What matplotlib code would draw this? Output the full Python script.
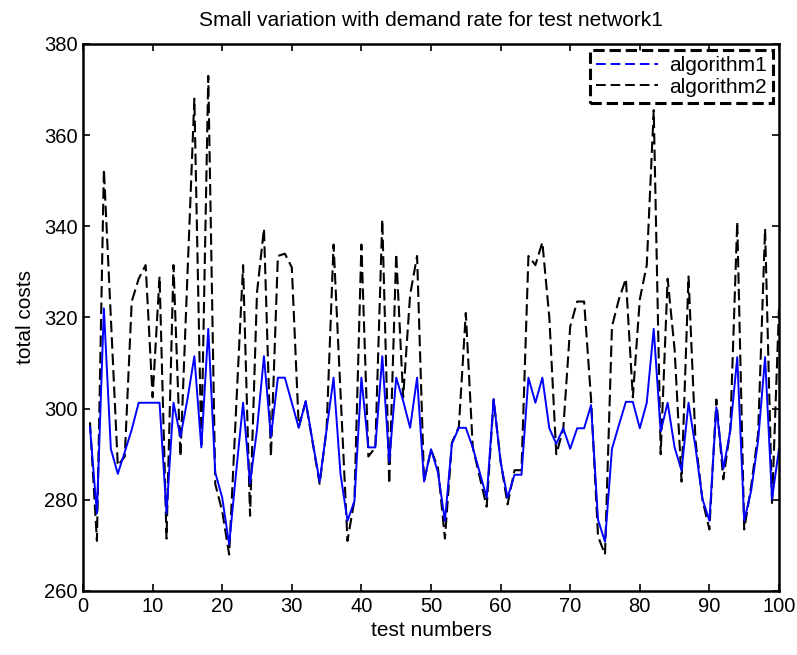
import numpy as np
import matplotlib
matplotlib.use("Agg")
import matplotlib.pyplot as plt
from matplotlib.lines import Line2D

# test numbers 1..100
tests = np.arange(1, 101)

# algorithm1 (blue, solid)
algorithm1 = [
    296, 277, 322, 291.2, 285.7, 290.5, 295.4, 301.3, 301.3, 301.3,
    301.3, 277, 301.3, 293.8, 302, 311.5, 291.5, 317.5, 286, 280.5,
    270.2, 286, 301.3, 283.6, 295.4, 311.5, 293.8, 306.8, 306.8, 301.3,
    295.8, 301.7, 292.7, 284, 295.4, 306.8, 285.6, 275.4, 279.7, 306.8,
    291.5, 291.5, 311.5, 288.3, 306.8, 301.7, 295.8, 306.8, 284, 291.1,
    286, 275.4, 292.3, 295.8, 295.8, 291.5, 286, 280.5, 302.1, 288.3,
    280.5, 285.5, 285.5, 306.8, 301.3, 306.8, 295.7, 292.3, 295.7, 291.2,
    295.7, 295.7, 300.8, 275.6, 270.8, 291.2, 296.4, 301.5, 301.5, 295.7,
    301.3, 317.5, 295, 301.3, 291.5, 286.4, 301.3, 291.5, 280.2, 275.4,
    300.3, 286.8, 295.2, 311.3, 275.4, 282, 293, 311.3, 280.2, 291.2,
]

# algorithm2 (black, dashed)
algorithm2 = [
    297, 271, 352.5, 320, 287.5, 289.5, 323.5, 328.5, 331.5, 302.5,
    329, 271.5, 331.5, 289.5, 329, 368, 291.5, 373, 283.5, 277.5,
    268, 300, 331.5, 276.5, 325.5, 339.5, 289.5, 333.5, 334, 331,
    296, 301.5, 292.5, 283.5, 295.5, 336, 303.5, 271, 280, 336,
    289.5, 291.5, 341.5, 283.5, 334, 302.5, 325, 333.5, 284, 291,
    287, 271.5, 292.5, 296, 321, 291.5, 285, 278.5, 302, 288.5,
    279, 286.5, 286.5, 333.5, 331.5, 336.5, 320, 290, 295.5, 318,
    323.5, 323.5, 302, 272, 268, 318, 324, 328.5, 302.5, 324,
    331.5, 365.5, 290, 328.5, 313, 284, 329, 293, 280, 273.5,
    302, 284.5, 295.5, 341, 273.5, 283, 294.5, 339.5, 279, 322,
]

plt.rcParams['font.family'] = ['Liberation Sans', 'DejaVu Sans']
plt.rcParams['font.size'] = 15

fig = plt.figure(figsize=(7.97, 6.55), dpi=100)
# axes box: x 83..779 px, y 44..591 px
ax = fig.add_axes([83 / 797, 64 / 655, 696 / 797, 547 / 655])

ax.plot(tests, algorithm2, color='black', linewidth=1.5, linestyle=(0, (5.5, 2.4)))
ax.plot(tests, algorithm1, color='blue', linewidth=1.4)

ax.set_xlim(0, 100)
ax.set_ylim(260, 380)
ax.set_xticks(np.arange(0, 101, 10))
ax.set_yticks(np.arange(260, 381, 20))
ax.tick_params(direction='in', top=True, right=True, length=5, width=1.2,
               pad=4, labelsize=14.5)
for s in ax.spines.values():
    s.set_linewidth(1.8)

ax.set_title("Small variation with demand rate for test network1", fontsize=15, pad=13)
ax.set_xlabel("test numbers", labelpad=4)
ax.set_ylabel("total costs", labelpad=6)

# legend shows both entries as dashed lines
handles = [
    Line2D([], [], color='blue', linewidth=1.4, linestyle=(0, (5, 2.5))),
    Line2D([], [], color='black', linewidth=1.4, linestyle=(0, (5, 2.5))),
]
leg = ax.legend(handles, ['algorithm1', 'algorithm2'], loc='upper right',
                fancybox=False, framealpha=1, borderaxespad=0.3,
                handlelength=3.0, handletextpad=0.5, labelspacing=0.1,
                borderpad=0.3)
leg.get_frame().set_edgecolor('black')
leg.get_frame().set_linewidth(2.2)
leg.get_frame().set_linestyle('--')

fig.savefig('out.png', dpi=100)
